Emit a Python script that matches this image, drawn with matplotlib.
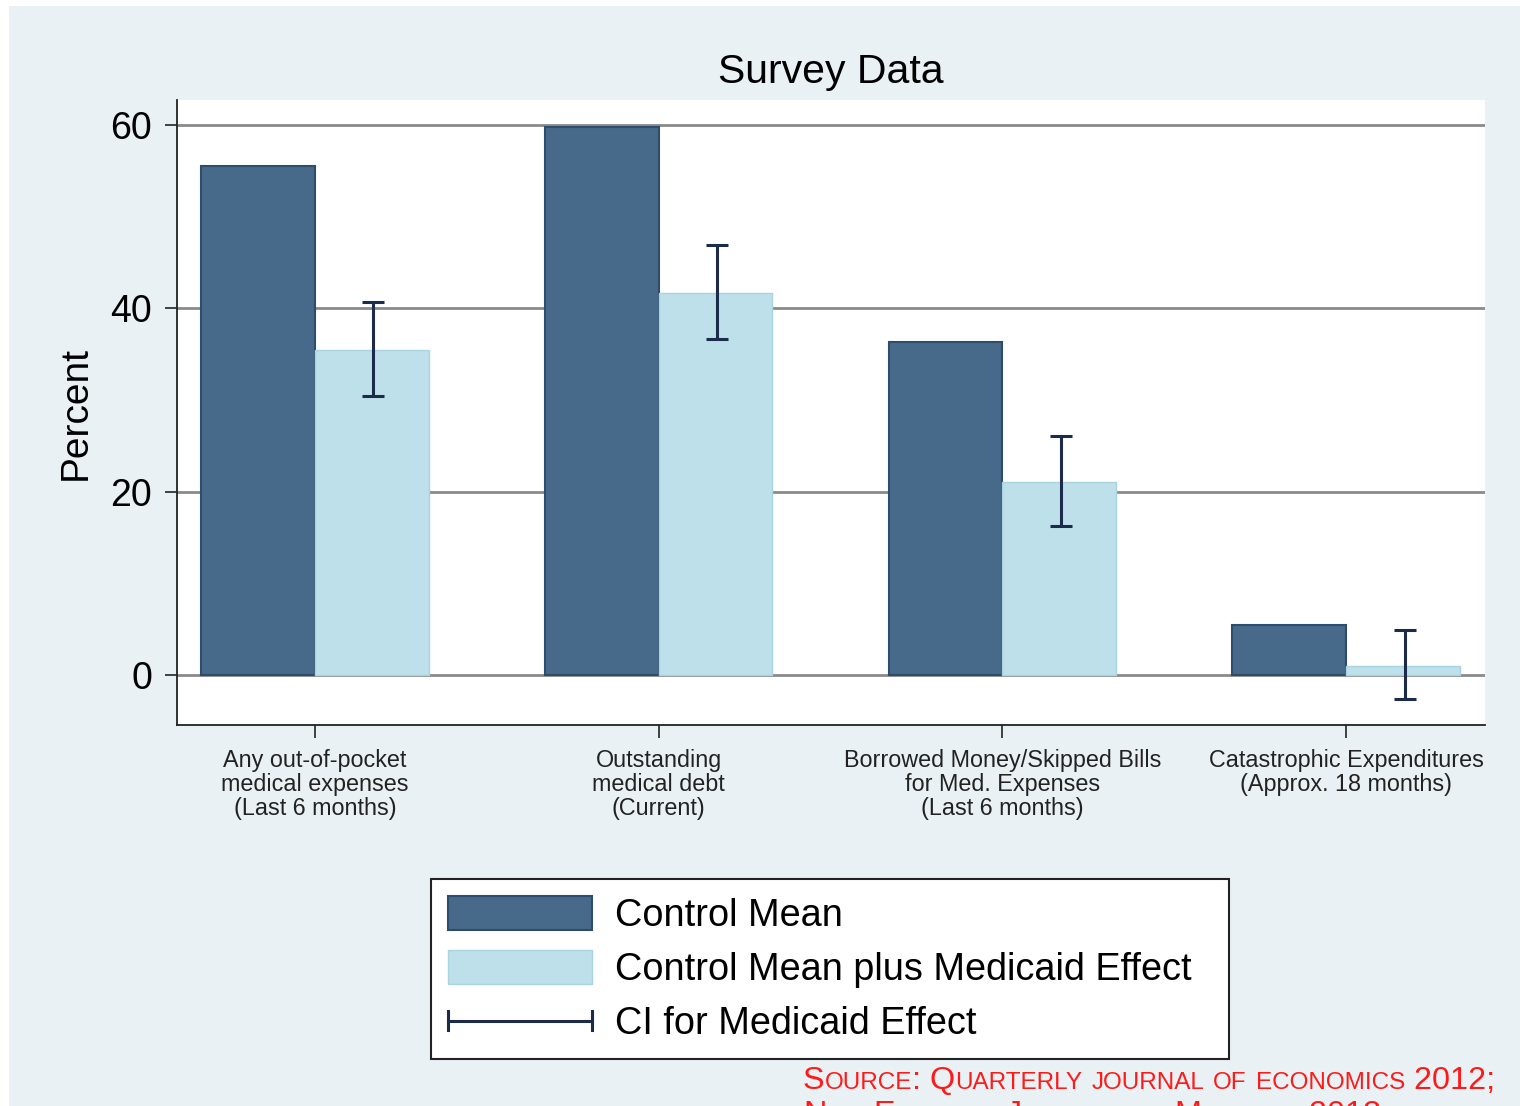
import numpy as np
from matplotlib import pyplot as plt
from matplotlib.patches import Rectangle
from matplotlib.lines import Line2D
from matplotlib.legend_handler import HandlerBase

categories = [
    "Any out-of-pocket\nmedical expenses\n(Last 6 months)",
    "Outstanding\nmedical debt\n(Current)",
    "Borrowed Money/Skipped Bills\nfor Med. Expenses\n(Last 6 months)",
    "Catastrophic Expenditures\n(Approx. 18 months)",
]
control_mean = [55.5, 59.8, 36.3, 5.5]
medicaid_mean = [35.4, 41.7, 21.0, 1.0]
ci_low = [30.4, 36.6, 16.2, -2.6]
ci_high = [40.7, 46.9, 26.1, 4.9]
yticks = [0, 20, 40, 60]

DARK = "#476a8b"
DARK_EDGE = "#2e4c6c"
LIGHT = "#bde0ea"
LIGHT_EDGE = "#a9d3e1"
NAVY = "#1c2a4c"
BG = "#e9f1f4"

plt.rcParams["font.family"] = ["Liberation Sans", "DejaVu Sans"]


class CIHandler(HandlerBase):
    # horizontal line with a cap at each end, like the Stata legend key
    def create_artists(self, legend, orig_handle, xdescent, ydescent, width, height, fontsize, trans):
        y = height / 2 - ydescent
        x0, x1 = -xdescent, width - xdescent
        h = height * 0.55
        line = Line2D([x0, x1], [y, y], color=NAVY, lw=2.2, transform=trans)
        c0 = Line2D([x0, x0], [y - h / 2, y + h / 2], color=NAVY, lw=2.2, transform=trans)
        c1 = Line2D([x1, x1], [y - h / 2, y + h / 2], color=NAVY, lw=2.2, transform=trans)
        return [line, c0, c1]


fig = plt.figure(figsize=(15.2, 11.06), dpi=100, facecolor="white")
W, H = 1520, 1106
fig.patches.append(Rectangle((9 / W, 0), 1 - 9 / W, 1 - 6 / H, transform=fig.transFigure,
                             facecolor=BG, edgecolor="none", zorder=-10))

ax = fig.add_axes([177 / W, 1 - 725 / H, (1485 - 177) / W, (725 - 100) / H])
ax.set_facecolor("white")

x = np.arange(len(categories))
bw = 0.331
ax.bar(x - bw / 2, control_mean, bw, color=DARK, edgecolor=DARK_EDGE, linewidth=1.5, zorder=3,
       label="Control Mean")
ax.bar(x + bw / 2, medicaid_mean, bw, color=LIGHT, edgecolor=LIGHT_EDGE, linewidth=1.0, zorder=3,
       label="Control Mean plus Medicaid Effect")

mid = (np.array(ci_low) + np.array(ci_high)) / 2
err = (np.array(ci_high) - np.array(ci_low)) / 2
ax.errorbar(x + bw / 2 + 0.005, mid, yerr=err, fmt="none", ecolor=NAVY, elinewidth=2.2,
            capsize=8, capthick=2.2, zorder=4)

ax.set_xlim(-0.401, 3.404)
ax.set_ylim(-5.45, 62.7)
ax.set_yticks(yticks)
ax.set_xticks(x)
ax.set_xticklabels(categories, fontsize=16.8, linespacing=1.08, color="#222222")
for t in ax.get_xticklabels():
    t.set_multialignment("center")
ax.tick_params(axis="y", labelsize=27, length=9, width=1.3, pad=9, color="#333333")
ax.tick_params(axis="x", length=9, width=1.3, pad=8, color="#333333")
ax.yaxis.grid(True, color="#8a8a8a", linewidth=2.0, zorder=1)
ax.set_axisbelow(True)

for s in ["top", "right"]:
    ax.spines[s].set_visible(False)
ax.spines["left"].set_linewidth(1.3)
ax.spines["bottom"].set_linewidth(1.3)
ax.spines["left"].set_color("#222222")
ax.spines["bottom"].set_color("#222222")

ax.set_ylabel("Percent", fontsize=28, labelpad=12)
ax.set_title("Survey Data", fontsize=29.5, pad=12)

ci_handle = Line2D([], [], color=NAVY)
handles, labels = ax.get_legend_handles_labels()
handles.append(ci_handle)
labels.append("CI for Medicaid Effect")
leg = fig.legend(handles, labels, loc="upper left",
                 bbox_to_anchor=(431 / W, 1 - 1055 / H, 798 / W, 176 / H),
                 bbox_transform=fig.transFigure, mode="expand", fontsize=27.3, frameon=True,
                 fancybox=False, framealpha=1, handlelength=3.8, handleheight=1.0,
                 handletextpad=0.6, labelspacing=0.42, borderpad=0.45, borderaxespad=0,
                 handler_map={Line2D: CIHandler()})
leg.get_frame().set_edgecolor("#222222")
leg.get_frame().set_linewidth(1.5)
leg.get_frame().set_facecolor("white")

# source note in small caps, drawn piece by piece
RED = "#ff1a1a"


def small_caps(text, x0, y0, big, small):
    fig.canvas.draw()
    r = fig.canvas.get_renderer()
    xpos = x0
    for word_i, word in enumerate(text.split(" ")):
        if word_i:
            word = " " + word
        chunks = []
        for ch in word:
            up = ch.isupper() or ch.isdigit() or ch in " :;"
            if chunks and chunks[-1][1] == up:
                chunks[-1][0] += ch
            else:
                chunks.append([ch, up])
        for s, up in chunks:
            t = fig.text(xpos / W, 1 - y0 / H, s.upper(), fontsize=big if up else small,
                         color=RED, ha="left", va="baseline")
            xpos += t.get_window_extent(renderer=r).width


small_caps("Source: Quarterly journal of economics 2012;", 803, 1089, 23.3, 17.5)
small_caps("New England Journal of Medicine 2013", 803, 1123, 23.3, 17.5)

fig.savefig("out.png", dpi=100, facecolor=fig.get_facecolor())
